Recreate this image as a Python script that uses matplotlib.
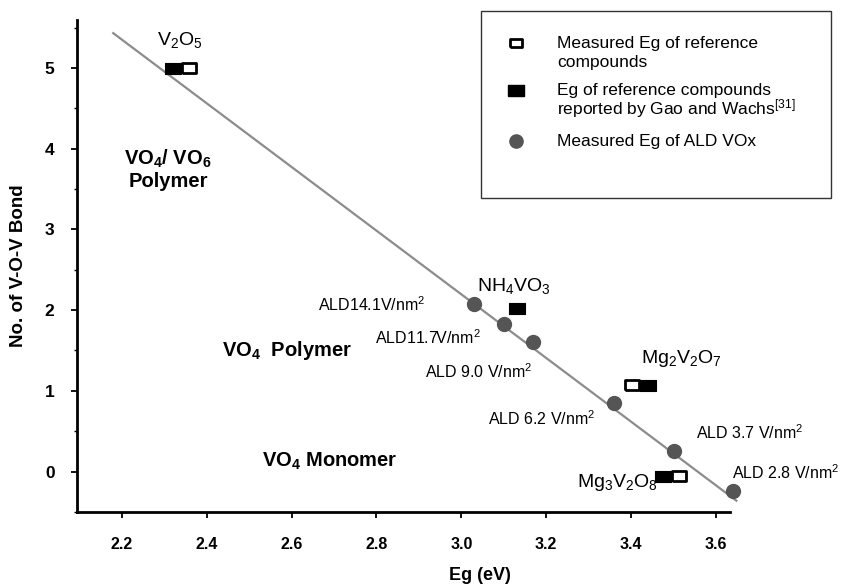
import numpy as np
import matplotlib
matplotlib.use("Agg")
import matplotlib.pyplot as plt
from matplotlib.lines import Line2D
from matplotlib.patches import Rectangle

plt.rcParams['font.family'] = ['Liberation Sans', 'DejaVu Sans']
plt.rcParams['mathtext.fontset'] = 'custom'
plt.rcParams['mathtext.rm'] = 'Liberation Sans'
plt.rcParams['mathtext.it'] = 'Liberation Sans:italic'
plt.rcParams['mathtext.bf'] = 'Liberation Sans:bold'

# ALD VOx films: band gap (eV) vs. number of V-O-V bonds
ald_eg = [3.03, 3.10, 3.17, 3.36, 3.50, 3.64]
ald_bonds = [2.08, 1.83, 1.61, 0.85, 0.25, -0.24]
ald_labels = ["ALD14.1V/nm$^2$", "ALD11.7V/nm$^2$", "ALD 9.0 V/nm$^2$",
              "ALD 6.2 V/nm$^2$", "ALD 3.7 V/nm$^2$", "ALD 2.8 V/nm$^2$"]
ald_label_pos = [(2.79, 2.07), (2.92, 1.66), (3.04, 1.24),
                 (3.19, 0.66), (3.68, 0.48), (3.765, -0.01)]

# reference compounds
ref_names = ["V$_2$O$_5$", "NH$_4$VO$_3$", "Mg$_2$V$_2$O$_7$", "Mg$_3$V$_2$O$_8$"]
ref_bonds = [5.0, 2.02, 1.07, -0.05]
ref_eg_measured = [2.358, np.nan, 3.401, 3.514]
ref_eg_gao = [2.321, 3.131, 3.439, 3.475]
ref_label_pos = [(2.337, 5.35), (3.125, 2.30), (3.518, 1.40), (3.369, -0.13)]

# linear trend line
fit_eg = [2.18, 3.648]
fit_bonds = [5.43, -0.36]

# wide rectangular marker
rect = [(-1, -0.72), (1, -0.72), (1, 0.72), (-1, 0.72), (-1, -0.72)]

fig = plt.figure(figsize=(8.45, 5.88), dpi=100)
ax = fig.add_axes([0.0908, 0.1293, 0.7731, 0.8367])

ax.plot(fit_eg, fit_bonds, color='#8c8c8c', lw=1.6, zorder=1, clip_on=False)
ax.plot(ald_eg, ald_bonds, 'o', color='#555555', ms=10, mec='#555555',
        zorder=3, clip_on=False)
ax.plot(ref_eg_gao, ref_bonds, ls='none', marker=rect, ms=11, mfc='black',
        mec='black', mew=0.8, zorder=3)
ax.plot(ref_eg_measured, ref_bonds, ls='none', marker=rect, ms=9.5, mfc='white',
        mec='black', mew=2.0, zorder=3)

for lab, (x, y) in zip(ald_labels, ald_label_pos):
    ax.text(x, y, lab, fontsize=11.5, ha='center', va='center')
for lab, (x, y) in zip(ref_names, ref_label_pos):
    ax.text(x, y, lab, fontsize=14, ha='center', va='center')

ax.text(2.309, 3.74, "VO$_\\mathbf{4}$/ VO$_\\mathbf{6}$\nPolymer", fontsize=14.5,
        fontweight='bold', ha='center', va='center', linespacing=1.15)
ax.text(2.589, 1.505, "VO$_\\mathbf{4}$  Polymer", fontsize=14.5,
        fontweight='bold', ha='center', va='center')
ax.text(2.691, 0.13, "VO$_\\mathbf{4}$ Monomer", fontsize=14.5,
        fontweight='bold', ha='center', va='center')

ax.set_xlim(2.094, 3.633)
ax.set_ylim(-0.445, 5.593)
ax.set_xticks(np.arange(2.2, 3.61, 0.2))
ax.set_yticks(range(0, 6))
ax.set_yticks(np.arange(-0.5, 5.6, 0.5), minor=True)
ax.set_xticklabels([f"{v:.1f}" for v in np.arange(2.2, 3.61, 0.2)])

for s in ['top', 'right']:
    ax.spines[s].set_visible(False)
for s in ['left', 'bottom']:
    ax.spines[s].set_linewidth(2.0)

ax.tick_params(axis='x', length=4, width=1.3, pad=14, labelsize=11.5)
ax.tick_params(axis='y', which='major', length=4, width=1.3, pad=12, labelsize=12.5)
ax.tick_params(axis='y', which='minor', length=2.5, width=1.0)
for t in ax.get_xticklabels() + ax.get_yticklabels():
    t.set_fontweight('bold')

ax.set_xlabel("Eg (eV)", fontsize=13, fontweight='bold')
ax.xaxis.set_label_coords(0.617, -0.112)
ax.set_ylabel("No. of V-O-V Bond", fontsize=13.5, fontweight='bold', labelpad=13)

# legend box drawn by hand so the markers sit on the first text line
W, H = 845.0, 588.0
def fx(px):
    return px / W
def fy(py):
    return 1 - py / H

fig.add_artist(Rectangle((fx(481), fy(198)), fx(831) - fx(481), fy(11) - fy(198),
                         transform=fig.transFigure, fill=False, ec='#333333', lw=1.0))
fig.add_artist(Line2D([fx(516)], [fy(43)], marker=rect, ms=8.5, mfc='white',
                      mec='black', mew=2.0, transform=fig.transFigure))
fig.add_artist(Line2D([fx(516)], [fy(90)], marker=rect, ms=11, mfc='black',
                      mec='black', transform=fig.transFigure))
fig.add_artist(Line2D([fx(516)], [fy(141)], marker='o', ms=9.5, color='#555555',
                      transform=fig.transFigure))
leg_kw = dict(fontsize=12.5, ha='left', va='baseline')
leg_lines = [(48, "Measured Eg of reference"),
             (67, "compounds"),
             (95, "Eg of reference compounds"),
             (114, "reported by Gao and Wachs$^{\\mathregular{[31]}}$"),
             (146, "Measured Eg of ALD VOx")]
for py, txt in leg_lines:
    fig.text(fx(557), fy(py), txt, **leg_kw)

fig.savefig("out.png", dpi=100)
